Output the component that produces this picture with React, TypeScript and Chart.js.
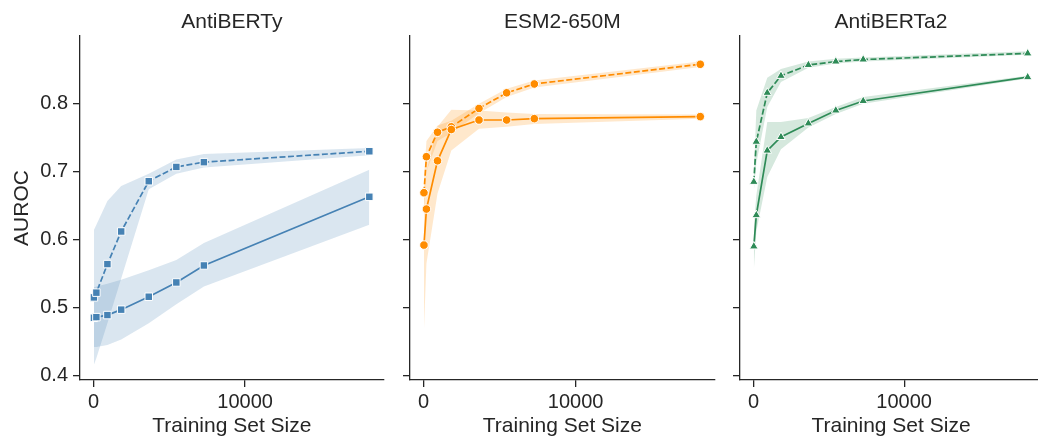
import React, { useEffect, useRef } from 'react';
import { Chart, registerables } from 'chart.js';

Chart.register(...registerables);

// ---- data ----
const trainingSizes = [18, 182, 910, 1820, 3640, 5460, 7280, 18200];
const xTickValues = [0, 10000];
const yTickValues = [0.4, 0.5, 0.6, 0.7, 0.8];
const panelTitles = ['AntiBERTy', 'ESM2-650M', 'AntiBERTa2'];
const panelColors = ['#4682b4', '#ff8c00', '#2e8b57'];
const panelBands = ['rgba(70,130,180,0.2)', 'rgba(255,140,0,0.2)', 'rgba(46,139,87,0.2)'];
const panelMarkers = ['rect', 'circle', 'triangle'];

// AntiBERTy
const antibertyDashed = [0.515, 0.522, 0.564, 0.612, 0.686, 0.707, 0.714, 0.730];
const antibertyDashedLow = [0.416, 0.426, 0.477, 0.543, 0.674, 0.697, 0.706, 0.724];
const antibertyDashedHigh = [0.614, 0.622, 0.657, 0.679, 0.697, 0.718, 0.726, 0.735];
const antibertySolid = [0.485, 0.486, 0.489, 0.497, 0.516, 0.537, 0.562, 0.663];
const antibertySolidLow = [0.442, 0.442, 0.445, 0.453, 0.477, 0.505, 0.531, 0.622];
const antibertySolidHigh = [0.530, 0.531, 0.535, 0.541, 0.555, 0.570, 0.595, 0.703];

// ESM2-650M
const esmDashed = [0.669, 0.722, 0.758, 0.766, 0.793, 0.816, 0.829, 0.858];
const esmDashedLow = [0.645, 0.700, 0.745, 0.757, 0.786, 0.810, 0.824, 0.854];
const esmDashedHigh = [0.690, 0.745, 0.768, 0.775, 0.800, 0.822, 0.834, 0.862];
const esmSolid = [0.592, 0.645, 0.716, 0.762, 0.776, 0.776, 0.778, 0.781];
const esmSolidLow = [0.467, 0.565, 0.668, 0.731, 0.763, 0.766, 0.770, 0.778];
const esmSolidHigh = [0.662, 0.700, 0.766, 0.791, 0.790, 0.787, 0.785, 0.784];

// AntiBERTa2
const antiberta2Dashed = [0.685, 0.744, 0.816, 0.841, 0.857, 0.862, 0.865, 0.874];
const antiberta2DashedLow = [0.672, 0.712, 0.795, 0.832, 0.853, 0.859, 0.862, 0.872];
const antiberta2DashedHigh = [0.696, 0.790, 0.838, 0.851, 0.862, 0.866, 0.868, 0.877];
const antiberta2Solid = [0.590, 0.636, 0.731, 0.751, 0.771, 0.790, 0.804, 0.839];
const antiberta2SolidLow = [0.555, 0.612, 0.692, 0.733, 0.765, 0.785, 0.800, 0.837];
const antiberta2SolidHigh = [0.620, 0.665, 0.773, 0.773, 0.779, 0.795, 0.810, 0.841];

const panelSeries = [
  [antibertyDashed, antibertyDashedLow, antibertyDashedHigh, antibertySolid, antibertySolidLow, antibertySolidHigh],
  [esmDashed, esmDashedLow, esmDashedHigh, esmSolid, esmSolidLow, esmSolidHigh],
  [antiberta2Dashed, antiberta2DashedLow, antiberta2DashedHigh, antiberta2Solid, antiberta2SolidLow, antiberta2SolidHigh],
];

const INK = '#262626';
const FONT = "'Liberation Sans', Arial, sans-serif";

const toPoints = (vals: number[]) => vals.map((y, i) => ({ x: trainingSizes[i], y }));

type PanelProps = { index: number; left: number; width: number; axisWidth: number; padRight: number };

function Panel({ index, left, width, axisWidth, padRight }: PanelProps) {
  const ref = useRef<HTMLCanvasElement | null>(null);
  useEffect(() => {
    if (!ref.current) return;
    const [dashed, dashedLow, dashedHigh, solid, solidLow, solidHigh] = panelSeries[index];
    const color = panelColors[index];
    const band = panelBands[index];
    const marker = panelMarkers[index];
    const radius = marker === 'rect' ? 5.3 : marker === 'circle' ? 4.3 : 5;
    const showLabels = index === 0;
    const none = 'rgba(0,0,0,0)';
    const bandSet = (vals: number[], fill: any) => ({
      data: toPoints(vals), borderWidth: 0, borderColor: none, pointRadius: 0,
      backgroundColor: band, fill, order: 2, tension: 0,
    });
    const lineSet = (vals: number[], dash: number[]) => ({
      data: toPoints(vals), borderColor: color, borderWidth: 1.7, borderDash: dash,
      pointStyle: marker, pointRadius: radius, pointBackgroundColor: color,
      pointBorderColor: '#ffffff', pointBorderWidth: 1, fill: false, order: 1, tension: 0,
    });
    const chart = new Chart(ref.current, {
      type: 'line',
      data: {
        datasets: [
          bandSet(solidLow, false),
          bandSet(solidHigh, '-1'),
          bandSet(dashedLow, false),
          bandSet(dashedHigh, '-1'),
          lineSet(solid, []),
          lineSet(dashed, [6, 2.5]),
        ] as any,
      },
      options: {
        animation: false,
        responsive: false,
        devicePixelRatio: 1,
        layout: { padding: { left: 0, right: padRight, top: 0, bottom: 0 } },
        plugins: { legend: { display: false }, tooltip: { enabled: false }, title: { display: false } },
        scales: {
          x: {
            type: 'linear', position: 'bottom', min: -900, max: 19150,
            afterBuildTicks: (s: any) => { s.ticks = xTickValues.map((v) => ({ value: v })); },
            afterFit: (s: any) => { s.height = 59; },
            grid: { drawOnChartArea: false, drawTicks: true, tickLength: 7, color: INK, lineWidth: 1.3 },
            border: { display: true, color: INK, width: 1.3 },
            ticks: { font: { size: 20, family: FONT }, color: INK, padding: 3, maxRotation: 0, callback: (v: any) => String(v) },
            title: { display: true, text: 'Training Set Size', font: { size: 21, family: FONT }, color: INK, padding: { top: 0, bottom: 0 } },
          },
          xTop: {
            type: 'linear', position: 'top', min: 0, max: 1,
            afterFit: (s: any) => { s.height = 36; },
            grid: { display: false }, border: { display: false }, ticks: { display: false },
            title: { display: true, text: panelTitles[index], font: { size: 21, family: FONT }, color: INK, padding: { top: 9.5, bottom: 0 } },
          },
          y: {
            type: 'linear', position: 'left', min: 0.3935, max: 0.8996,
            afterBuildTicks: (s: any) => { s.ticks = yTickValues.map((v) => ({ value: v })); },
            afterFit: (s: any) => { s.width = axisWidth; },
            grid: { drawOnChartArea: false, drawTicks: true, tickLength: 7, color: INK, lineWidth: 1.3 },
            border: { display: true, color: INK, width: 1.3 },
            ticks: { display: showLabels, font: { size: 20, family: FONT }, color: INK, padding: 5, callback: (v: any) => Number(v).toFixed(1) },
            title: { display: showLabels, text: 'AUROC', font: { size: 21, family: FONT }, color: INK, padding: { top: 10, bottom: 0 } },
          },
        },
      } as any,
    });
    return () => chart.destroy();
  }, [index, axisWidth, padRight]);
  return (
    <canvas
      ref={ref}
      width={width}
      height={439}
      style={{ position: 'absolute', left, top: 0, width, height: 439 }}
    />
  );
}

export default function App() {
  return (
    <div style={{ position: 'fixed', left: 0, top: 0, width: 1038, height: 439, background: '#ffffff', overflow: 'hidden' }}>
      <Panel index={0} left={0} width={390} axisWidth={80} padRight={3} />
      <Panel index={1} left={390} width={330} axisWidth={20} padRight={2} />
      <Panel index={2} left={720} width={328} axisWidth={20} padRight={1} />
    </div>
  );
}
